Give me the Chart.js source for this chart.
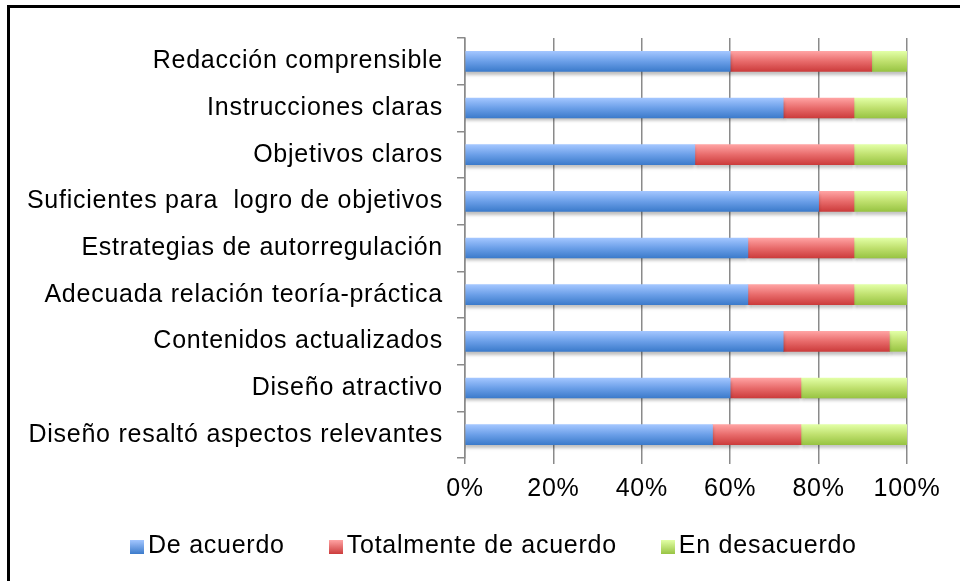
<!DOCTYPE html>
<html>
<head>
<meta charset="utf-8">
<script src="https://cdn.jsdelivr.net/npm/chart.js@4/dist/chart.umd.min.js"></script>
<style>
  html, body { margin: 0; padding: 0; background: #fff; }
  #wrap { position: relative; width: 960px; height: 581px; overflow: hidden; }
  #frame { position: absolute; left: 7px; top: 5px; width: 1000px; height: 700px;
           border-left: 3px solid #000; border-top: 3px solid #000; pointer-events: none; }
  #legend { position: absolute; left: 130px; top: 530px; display: flex; align-items: center;
            font-family: "Liberation Sans", Arial, sans-serif; font-size: 25px; color: #000;
            letter-spacing: 0.75px; }
  #legend .item { display: flex; align-items: center; margin-right: 44px; }
  #legend .box { width: 14px; height: 14px; margin-right: 4px; margin-top: 4px; }
</style>
</head>
<body>
<div id="wrap">
  <canvas id="myChart" width="960" height="581"></canvas>
  <div id="frame"></div>
  <div id="legend"></div>
</div>
<script>
'use strict';

// categorias (de arriba hacia abajo)
var categorias = [
  "Redacción comprensible",
  "Instrucciones claras",
  "Objetivos claros",
  "Suficientes para  logro de objetivos",
  "Estrategias de autorregulación",
  "Adecuada relación teoría-práctica",
  "Contenidos actualizados",
  "Diseño atractivo",
  "Diseño resaltó aspectos relevantes"
];

// porcentajes por serie
var deAcuerdo   = [60, 72, 52, 80, 64, 64, 72, 60, 56];
var totalmente  = [32, 16, 36,  8, 24, 24, 24, 16, 20];
var desacuerdo  = [ 8, 12, 12, 12, 12, 12,  4, 24, 24];

var nombresSeries = ["De acuerdo", "Totalmente de acuerdo", "En desacuerdo"];
var ticksX = [0, 20, 40, 60, 80, 100];

var colores = [
  ['#a3c6ff', '#6b9fe8', '#3c7bcb'],
  ['#ffa3a3', '#e86b6b', '#cc3c3c'],
  ['#e2ffa6', '#bfe06e', '#98c443']
];

function degradado(c) {
  return function (context) {
    var chart = context.chart;
    if (!chart.chartArea) return c[1];
    var y = chart.scales.y.getPixelForValue(context.dataIndex);
    var g = chart.ctx.createLinearGradient(0, y - 10, 0, y + 10);
    g.addColorStop(0, c[0]);
    g.addColorStop(0.5, c[1]);
    g.addColorStop(1, c[2]);
    return g;
  };
}

// texto un poco mas ancho, como en el original
var espaciado = {
  id: 'espaciado',
  beforeDraw: function (chart) { chart.ctx.letterSpacing = '0.75px'; }
};

// sombra bajo las barras
var sombra = {
  id: 'sombra',
  beforeDatasetsDraw: function (chart) {
    var ctx = chart.ctx;
    ctx.save();
    ctx.shadowColor = 'rgba(0,0,0,0.25)';
    ctx.shadowBlur = 3;
    ctx.shadowOffsetY = 3;
  },
  afterDatasetsDraw: function (chart) {
    chart.ctx.restore();
  }
};

var fuente = { family: '"Liberation Sans", Arial, sans-serif', size: 25 };

var ctx = document.getElementById('myChart').getContext('2d');
var chart = new Chart(ctx, {
  type: 'bar',
  data: {
    labels: categorias,
    datasets: [
      { label: nombresSeries[0], data: deAcuerdo, backgroundColor: degradado(colores[0]) },
      { label: nombresSeries[1], data: totalmente, backgroundColor: degradado(colores[1]) },
      { label: nombresSeries[2], data: desacuerdo, backgroundColor: degradado(colores[2]) }
    ]
  },
  options: {
    indexAxis: 'y',
    responsive: false,
    animation: false,
    barThickness: 20,
    layout: { padding: { top: 38, right: 53, left: 0, bottom: 0 } },
    plugins: {
      legend: { display: false },
      tooltip: { enabled: false }
    },
    scales: {
      x: {
        stacked: true,
        min: 0,
        max: 100,
        afterBuildTicks: function (scale) {
          scale.ticks = ticksX.map(function (v) { return { value: v }; });
        },
        afterFit: function (scale) { scale.height = 123; },
        ticks: {
          color: '#000',
          font: fuente,
          padding: 10,
          maxRotation: 0,
          callback: function (v) { return v + '%'; }
        },
        grid: { color: '#8a8a8a', lineWidth: 1.5, tickLength: 6 },
        border: { display: false }
      },
      y: {
        stacked: true,
        afterFit: function (scale) { scale.width = 465; },
        ticks: { color: '#000', font: fuente, padding: 14 },
        grid: { drawOnChartArea: false, color: '#8a8a8a', lineWidth: 1.5, tickLength: 8 },
        border: { display: true, color: '#8a8a8a', width: 1.5 }
      }
    }
  },
  plugins: [espaciado, sombra]
});

// leyenda
var leyenda = document.getElementById('legend');
nombresSeries.forEach(function (n, i) {
  var item = document.createElement('div');
  item.className = 'item';
  var box = document.createElement('span');
  box.className = 'box';
  box.style.background = 'linear-gradient(' + colores[i][0] + ',' + colores[i][2] + ')';
  var txt = document.createElement('span');
  txt.textContent = n;
  item.appendChild(box);
  item.appendChild(txt);
  leyenda.appendChild(item);
});
</script>
</body>
</html>
